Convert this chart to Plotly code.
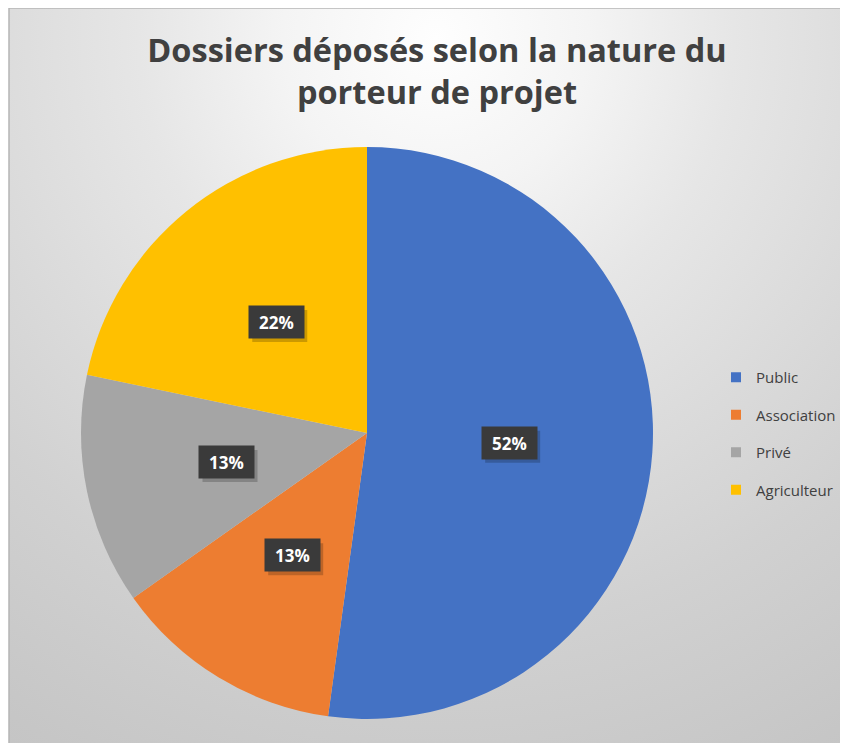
import base64
import math
import plotly.graph_objects as go

# ---- data ----
categories = ["Public", "Association", "Privé", "Agriculteur"]
counts = [24, 6, 6, 10]
colors = ["#4472C4", "#ED7D31", "#A5A5A5", "#FFC000"]
title_text = "Dossiers déposés selon la nature du<br>porteur de projet"

W, H = 848, 743
OFF = 8  # page body margin offset (screen = figure + OFF)


def pxx(X):
    return (X - OFF) / W


def pxy(Y):
    return 1 - (Y - OFF) / H


# ---- background gradient (svg data uri) ----
fx0, fy0 = 1, 0
fw, fh = W - fx0, H - fy0
gcx, gcy = 436 - OFF - fx0, 38 - OFF - fy0
svg = f"""<svg xmlns='http://www.w3.org/2000/svg' width='{fw}' height='{fh}' viewBox='0 0 {fw} {fh}' preserveAspectRatio='none'>
<defs><radialGradient id='g' gradientUnits='userSpaceOnUse' cx='{gcx}' cy='{gcy}' r='850'>
<stop offset='0' stop-color='#fefefe'/>
<stop offset='0.18' stop-color='#f4f4f4'/>
<stop offset='0.35' stop-color='#e6e6e6'/>
<stop offset='0.53' stop-color='#dbdbdb'/>
<stop offset='0.7' stop-color='#d1d1d1'/>
<stop offset='0.94' stop-color='#c6c6c6'/>
<stop offset='1' stop-color='#c4c4c4'/>
</radialGradient></defs>
<rect x='0' y='0' width='{fw}' height='{fh}' fill='url(#g)'/>
</svg>"""
bg_uri = "data:image/svg+xml;base64," + base64.b64encode(svg.encode()).decode()

# ---- pie geometry (screen pixels -> paper) ----
cx_px, cy_px, R_px = 367, 433, 286
dom_x = [pxx(cx_px - R_px), pxx(cx_px + R_px)]
dom_y = [pxy(cy_px + R_px), pxy(cy_px - R_px)]

fig = go.Figure()
fig.add_trace(go.Pie(
    labels=categories, values=counts, sort=False, direction="clockwise",
    rotation=0, marker=dict(colors=colors, line=dict(width=0)),
    textinfo="none", showlegend=False, domain=dict(x=dom_x, y=dom_y),
    hoverinfo="label+percent",
))

# legend entries (square markers)
for cat, col in zip(categories, colors):
    fig.add_trace(go.Scatter(
        x=[None], y=[None], mode="markers", name=cat, legendgroup=cat,
        marker=dict(symbol="square", size=10, color=col), showlegend=True,
    ))

# ---- percentage labels with dark boxes, computed from data ----
total = sum(counts)
cum = 0
annotations = []
shapes = [dict(type="rect", xref="paper", yref="paper",
               x0=fx0 / W, x1=1.0, y0=0.0, y1=1.0,
               line=dict(color="#b5b5b5", width=1.5), layer="below")]
BW, BH = 55, 32
for v in counts:
    frac = v / total
    mid = (cum + frac / 2) * 2 * math.pi
    cum += frac
    px = cx_px + 0.5 * R_px * math.sin(mid)
    py = cy_px - 0.5 * R_px * math.cos(mid)
    txt = f"{round(frac * 100)}%"
    # soft shadow below the label box
    shapes.append(dict(
        type="rect", xref="paper", yref="paper",
        x0=pxx(px - BW / 2 + 3), x1=pxx(px + BW / 2 + 3),
        y0=pxy(py + BH / 2 + 4), y1=pxy(py - BH / 2 + 4),
        fillcolor="rgba(0,0,0,0.2)", line=dict(width=0), layer="above",
    ))
    annotations.append(dict(
        x=pxx(px), y=pxy(py), xref="paper", yref="paper", text=f"<b>{txt}</b>",
        xanchor="center", yanchor="middle",
        showarrow=False, borderpad=6, width=BW - 12, height=BH - 12,
        font=dict(family="Open Sans", size=17, color="white"),
        bgcolor="#3a3a3a",
    ))

fig.update_layout(
    width=W, height=H, autosize=False,
    margin=dict(l=0, r=0, t=0, b=0),
    paper_bgcolor="white", plot_bgcolor="rgba(0,0,0,0)",
    title=dict(text=f"<b>{title_text}</b>", x=pxx(437), xanchor="center",
               y=pxy(62), yanchor="middle",
               font=dict(family="Open Sans", size=32.5, color="#404040")),
    xaxis=dict(visible=False), yaxis=dict(visible=False),
    legend=dict(x=pxx(716), xanchor="left", y=pxy(433.5), yanchor="middle",
                font=dict(family="Open Sans", size=15, color="#404040"),
                bgcolor="rgba(0,0,0,0)", tracegroupgap=15),
    images=[dict(source=bg_uri, xref="paper", yref="paper",
                 x=fx0 / W, y=1 - fy0 / H, sizex=fw / W, sizey=fh / H,
                 xanchor="left", yanchor="top", sizing="stretch", layer="below")],
    shapes=shapes,
    annotations=annotations,
)

fig.write_html("out.html")
